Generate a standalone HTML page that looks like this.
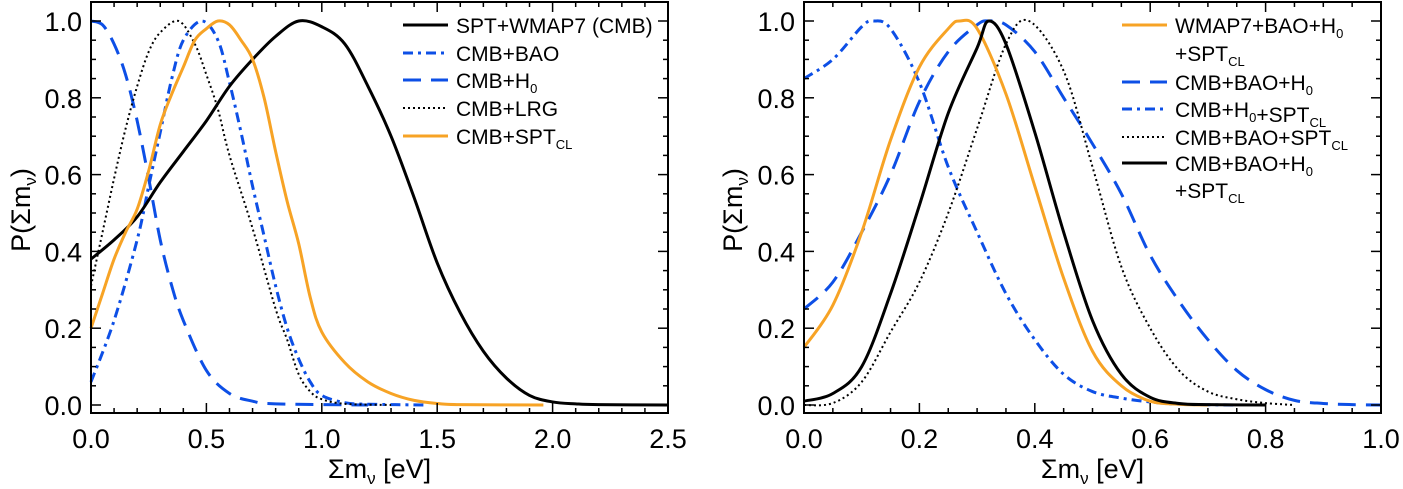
<!DOCTYPE html>
<html><head><meta charset="utf-8">
<style>
html,body{margin:0;padding:0;background:#fff;}
svg{display:block;font-family:"Liberation Sans",sans-serif;}
</style></head>
<body>
<svg id="fig" width="1403" height="489" viewBox="0 0 1403 489" xmlns="http://www.w3.org/2000/svg"></svg>
<script>
// ---------- data ----------
const leftX_spt = [0,0.1,0.2,0.3,0.4,0.5,0.6,0.7,0.8,0.9,1.0,1.1,1.2,1.3,1.4,1.5,1.6,1.7,1.8,1.9,2.0,2.1,2.2,2.5];
const leftY_spt = [0.38,0.43,0.49,0.58,0.66,0.74,0.83,0.90,0.96,1.0,0.985,0.94,0.83,0.70,0.54,0.37,0.24,0.14,0.07,0.025,0.008,0.003,0.001,0];
const leftX_bao = [0,0.1,0.2,0.25,0.3,0.35,0.4,0.48,0.55,0.6,0.65,0.7,0.75,0.8,0.85,0.9,0.95,1.0,1.1,1.2,1.45];
const leftY_bao = [0.06,0.22,0.43,0.57,0.71,0.85,0.95,1.0,0.95,0.84,0.71,0.57,0.44,0.31,0.20,0.12,0.06,0.025,0.006,0.002,0];
const leftX_h0 = [0,0.05,0.1,0.15,0.2,0.25,0.3,0.35,0.4,0.5,0.6,0.7,0.8,1.2];
const leftY_h0 = [1.0,0.99,0.94,0.86,0.74,0.59,0.43,0.31,0.22,0.09,0.03,0.01,0.003,0];
const leftX_lrg = [0,0.05,0.1,0.15,0.2,0.25,0.3,0.38,0.45,0.5,0.55,0.6,0.7,0.8,0.85,0.9,0.95,1.0,1.1,1.3];
const leftY_lrg = [0.31,0.45,0.59,0.72,0.83,0.92,0.97,1.0,0.94,0.86,0.77,0.65,0.46,0.25,0.17,0.08,0.035,0.015,0.003,0];
const leftX_cl = [0,0.05,0.1,0.15,0.2,0.25,0.3,0.35,0.4,0.45,0.5,0.55,0.6,0.65,0.7,0.75,0.8,0.85,0.9,0.95,1.0,1.1,1.2,1.3,1.4,1.5,1.6,1.96];
const leftY_cl = [0.20,0.29,0.38,0.45,0.51,0.61,0.73,0.81,0.88,0.95,0.98,1.0,0.99,0.95,0.90,0.80,0.66,0.53,0.42,0.28,0.19,0.11,0.06,0.03,0.012,0.004,0.001,0];

const rightX_w7 = [0,0.05,0.1,0.15,0.2,0.25,0.27,0.3,0.35,0.4,0.45,0.5,0.55,0.6,0.65,0.7];
const rightY_w7 = [0.15,0.26,0.45,0.69,0.88,0.98,1.0,0.98,0.81,0.57,0.33,0.14,0.05,0.01,0.002,0];
const rightX_bh = [0,0.05,0.1,0.15,0.2,0.25,0.3,0.32,0.35,0.4,0.45,0.5,0.55,0.6,0.65,0.7,0.75,0.8,0.85,0.9,0.95,1.0];
const rightY_bh = [0.25,0.32,0.45,0.60,0.79,0.92,0.99,1.0,0.99,0.92,0.80,0.68,0.55,0.39,0.27,0.17,0.09,0.04,0.012,0.004,0.001,0];
const rightX_hs = [0,0.05,0.1,0.12,0.15,0.2,0.25,0.3,0.35,0.4,0.45,0.5,0.55,0.6,0.65,0.75];
const rightY_hs = [0.85,0.90,0.985,1.0,0.98,0.84,0.62,0.45,0.29,0.17,0.08,0.035,0.018,0.008,0.002,0];
const rightX_bs = [0,0.05,0.1,0.15,0.2,0.25,0.3,0.35,0.39,0.45,0.5,0.55,0.6,0.65,0.7,0.75,0.8,0.85];
const rightY_bs = [0.0,0.005,0.06,0.19,0.32,0.50,0.72,0.94,1.0,0.87,0.62,0.36,0.20,0.09,0.035,0.015,0.005,0];
const rightX_all = [0,0.05,0.1,0.15,0.2,0.25,0.3,0.32,0.35,0.4,0.45,0.5,0.55,0.6,0.65,0.7,0.8];
const rightY_all = [0.01,0.03,0.10,0.29,0.52,0.76,0.93,1.0,0.94,0.71,0.45,0.22,0.08,0.02,0.004,0.001,0];

const leftTicks = ["0.0","0.5","1.0","1.5","2.0","2.5"];
const rightTicks = ["0.0","0.2","0.4","0.6","0.8","1.0"];
const yTicks = ["0.0","0.2","0.4","0.6","0.8","1.0"];

// ---------- drawing ----------
const NS="http://www.w3.org/2000/svg";
const svg=document.getElementById('fig');
function mk(tag,attrs,parent){const e=document.createElementNS(NS,tag);for(const k in attrs)e.setAttribute(k,attrs[k]);(parent||svg).appendChild(e);return e;}
const BLUE="#0d4fe6", ORANGE="#f7a325";
const styles={solid:"",dash:"18,10",dashdot:"10,5,3,5",dot:"2,3"};

function panel(name,x0,x1,xmax,majorStep,minorStep,xticks,series,legend,legX,yLabelX){
  const yTop=2,yBot=413,y0=405,y1=21;
  const g=mk('g',{});
  
  
  const sx=v=>x0+(v/xmax)*(x1-x0);
  const sy=v=>y0-(v)*(y0-y1);
  series.forEach(s=>{
    const pts=s.xs.map((x,i)=>[sx(x),sy(s.ys[i])]);
    let d="M"+pts[0][0]+","+pts[0][1];
    for(let i=0;i<pts.length-1;i++){
      const p0=pts[Math.max(0,i-1)],p1=pts[i],p2=pts[i+1],p3=pts[Math.min(pts.length-1,i+2)];
      const c1=[p1[0]+(p2[0]-p0[0])/6,p1[1]+(p2[1]-p0[1])/6];
      const c2=[p2[0]-(p3[0]-p1[0])/6,p2[1]-(p3[1]-p1[1])/6];
      d+=" C"+c1[0]+","+c1[1]+" "+c2[0]+","+c2[1]+" "+p2[0]+","+p2[1];
    }
    const p=mk('path',{d:d,fill:'none',stroke:s.color,'stroke-width':s.w,'stroke-dasharray':styles[s.style]},g);
    
    
  });
  const fr=mk('rect',{x:x0,y:yTop,width:x1-x0,height:yBot-yTop,fill:'none',stroke:'#000','stroke-width':2},g);
  
  
  const nMinor=Math.round(xmax/minorStep);
  for(let i=0;i<=nMinor;i++){
    const v=i*minorStep, X=sx(v);
    const major=Math.abs(v/majorStep-Math.round(v/majorStep))<1e-6;
    const L=major?10:5;
    mk('line',{x1:X,y1:yBot,x2:X,y2:yBot-L,stroke:'#000','stroke-width':1.5},g);
    mk('line',{x1:X,y1:yTop,x2:X,y2:yTop+L,stroke:'#000','stroke-width':1.5},g);
  }
  xticks.forEach((t,i)=>{
    const tx=mk('text',{x:sx(i*majorStep),y:448,'text-anchor':'middle','font-size':27},g);
    tx.textContent=t;
    
    
  });
  for(let i=0;i<=20;i++){
    const v=i*0.05,Y=sy(v);
    const L=(i%4===0)?10:5;
    mk('line',{x1:x0,y1:Y,x2:x0+L,y2:Y,stroke:'#000','stroke-width':1.5},g);
    mk('line',{x1:x1,y1:Y,x2:x1-L,y2:Y,stroke:'#000','stroke-width':1.5},g);
  }
  yTicks.forEach((t,i)=>{
    const tx=mk('text',{x:x0-9,y:sy(i*0.2)+10,'text-anchor':'end','font-size':27},g);
    tx.textContent=t;
    
    
  });
  const xt=mk('text',{x:(x0+x1)/2,y:478,'text-anchor':'middle','font-size':27},g);
  xt.innerHTML='Σm<tspan font-size="17" dy="6">ν</tspan><tspan dy="-6"> [eV]</tspan>';
  
  
  const yt=mk('text',{x:0,y:0,'text-anchor':'middle','font-size':27,transform:'translate('+yLabelX+',210) rotate(-90)'},g);
  yt.innerHTML='P(Σm<tspan font-size="17" dy="6">ν</tspan><tspan dy="-6">)</tspan>';
  
  
  legend.forEach(e=>{
    const lg=mk('g',{},g);
    
    
    if(e.style){
      mk('line',{x1:legX,y1:e.y,x2:legX+45,y2:e.y,stroke:e.color,'stroke-width':e.w,'stroke-dasharray':styles[e.style]},lg);
    }
    const tx=mk('text',{x:legX+53,y:e.y+8,'font-size':21},lg);
    tx.innerHTML=e.html;
  });
}
const sub=t=>'<tspan font-size="13" dy="5">'+t+'</tspan><tspan dy="-5"></tspan>';

panel('left-panel',91,668,2.5,0.5,0.1,leftTicks,[
  {id:'cmb-h0-line',xs:leftX_h0,ys:leftY_h0,color:BLUE,style:'dash',w:3},
  {id:'cmb-bao-line',xs:leftX_bao,ys:leftY_bao,color:BLUE,style:'dashdot',w:3},
  {id:'cmb-lrg-line',xs:leftX_lrg,ys:leftY_lrg,color:'#000',style:'dot',w:2},
  {id:'spt-wmap7-line',xs:leftX_spt,ys:leftY_spt,color:'#000',style:'solid',w:3},
  {id:'cmb-sptcl-line',xs:leftX_cl,ys:leftY_cl,color:ORANGE,style:'solid',w:3}
],[
  {y:25,color:'#000',style:'solid',w:3,html:'SPT+WMAP7 (CMB)'},
  {y:53,color:BLUE,style:'dashdot',w:3,html:'CMB+BAO'},
  {y:80,color:BLUE,style:'dash',w:3,html:'CMB+H'+sub('0')},
  {y:108,color:'#000',style:'dot',w:2,html:'CMB+LRG'},
  {y:136,color:ORANGE,style:'solid',w:3,html:'CMB+SPT'+sub('CL')}
],403,30);

panel('right-panel',804,1381,1.0,0.2,0.05,rightTicks,[
  {id:'cmb-bao-h0-line',xs:rightX_bh,ys:rightY_bh,color:BLUE,style:'dash',w:3},
  {id:'cmb-h0-sptcl-line',xs:rightX_hs,ys:rightY_hs,color:BLUE,style:'dashdot',w:3},
  {id:'cmb-bao-sptcl-line',xs:rightX_bs,ys:rightY_bs,color:'#000',style:'dot',w:2},
  {id:'wmap7-bao-h0-sptcl-line',xs:rightX_w7,ys:rightY_w7,color:ORANGE,style:'solid',w:3},
  {id:'cmb-bao-h0-sptcl-line',xs:rightX_all,ys:rightY_all,color:'#000',style:'solid',w:3}
],[
  {y:25,color:ORANGE,style:'solid',w:3,html:'WMAP7+BAO+H'+sub('0')},
  {y:53,html:'+SPT'+sub('CL')},
  {y:82,color:BLUE,style:'dash',w:3,html:'CMB+BAO+H'+sub('0')},
  {y:109,color:BLUE,style:'dashdot',w:3,html:'CMB+H'+sub('0')+'+SPT'+sub('CL')},
  {y:137,color:'#000',style:'dot',w:2,html:'CMB+BAO+SPT'+sub('CL')},
  {y:163,color:'#000',style:'solid',w:3,html:'CMB+BAO+H'+sub('0')},
  {y:190,html:'+SPT'+sub('CL')}
],1122,742);
</script>
</body></html>
